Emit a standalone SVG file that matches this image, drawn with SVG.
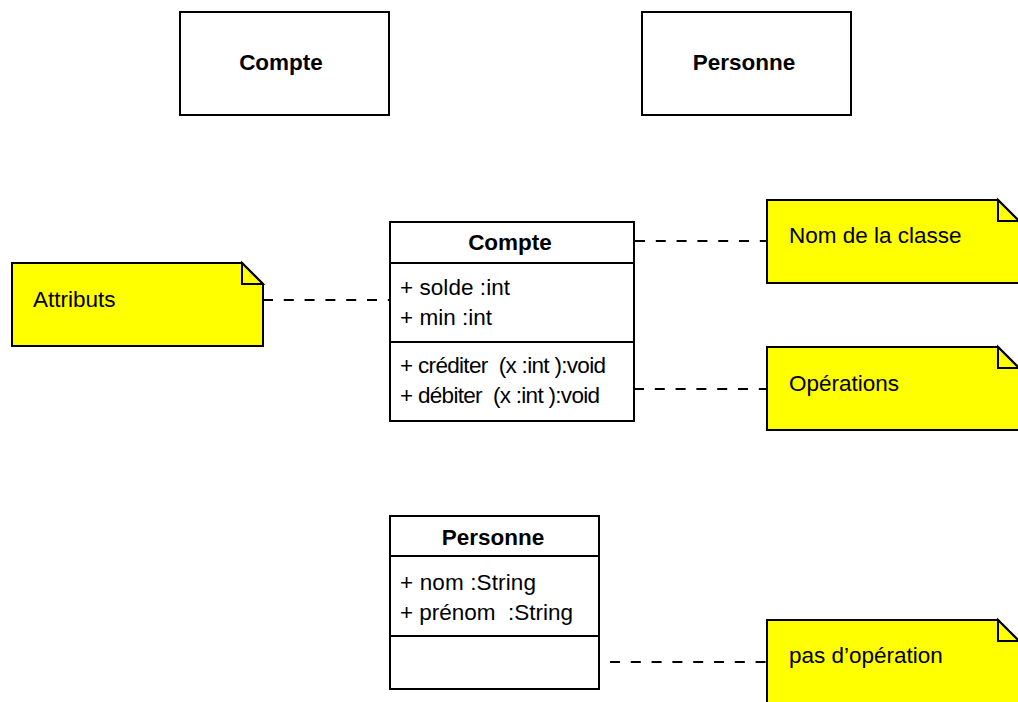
<svg xmlns="http://www.w3.org/2000/svg" width="1018" height="702" viewBox="0 0 1018 702">
<style>
.box{fill:#fff;stroke:#000;stroke-width:2}
.sep{stroke:#000;stroke-width:2}
.note{fill:#ffff00;stroke:#000;stroke-width:2;stroke-linejoin:miter}
.fold{fill:#ffff00;stroke:#000;stroke-width:2}
.t{font-family:"Liberation Sans",Arial,sans-serif;font-size:22.5px;fill:#000;white-space:pre}
.b{font-family:"Liberation Sans",Arial,sans-serif;font-size:22.5px;font-weight:bold;fill:#000;text-anchor:middle}
.c{stroke:#000;stroke-width:2;stroke-dasharray:10 10.8;fill:none}
</style>
<rect width="1018" height="702" fill="#fff"/>
<g id="compte-simple">
<rect class="box" x="180" y="12" width="209" height="103"/>
<text class="b" x="281" y="70">Compte</text>
</g>
<g id="personne-simple">
<rect class="box" x="642" y="12" width="209" height="103"/>
<text class="b" x="744" y="70">Personne</text>
</g>
<g id="connectors">
<line class="c" x1="635" y1="241" x2="767" y2="241"/>
<line class="c" x1="263" y1="300" x2="390" y2="300"/>
<line class="c" x1="634" y1="389" x2="767" y2="389"/>
<line class="c" x1="610" y1="662" x2="767" y2="662"/>
</g>
<g id="compte-class">
<rect class="box" x="390" y="222" width="244" height="199"/>
<line class="sep" x1="390" y1="263" x2="634" y2="263"/>
<line class="sep" x1="390" y1="342" x2="634" y2="342"/>
<text class="b" x="510" y="250">Compte</text>
<text class="t" x="400" y="295" textLength="110">+ solde :int</text>
<text class="t" x="400" y="325" textLength="92">+ min :int</text>
<text class="t" x="400" y="373" textLength="206">+ créditer  (x :int ):void</text>
<text class="t" x="400" y="403" textLength="200">+ débiter  (x :int ):void</text>
</g>
<g id="personne-class">
<rect class="box" x="390" y="516" width="209" height="173"/>
<line class="sep" x1="390" y1="556" x2="599" y2="556"/>
<line class="sep" x1="390" y1="636" x2="599" y2="636"/>
<text class="b" x="493" y="545">Personne</text>
<text class="t" x="400" y="590" textLength="136">+ nom :String</text>
<text class="t" x="400" y="620" textLength="173">+ prénom  :String</text>
</g>
<g id="note-attributs">
<path class="note" d="M12,263 H242 L263,284 V346 H12 Z"/>
<path class="fold" d="M242,263 V284 H263 Z"/>
<text class="t" x="33" y="307">Attributs</text>
</g>
<g id="note-nom">
<path class="note" d="M767,200 H998 L1019,221 V283 H767 Z"/>
<path class="fold" d="M998,200 V221 H1019 Z"/>
<text class="t" x="789" y="243">Nom de la classe</text>
</g>
<g id="note-operations">
<path class="note" d="M767,347 H998 L1019,368 V430 H767 Z"/>
<path class="fold" d="M998,347 V368 H1019 Z"/>
<text class="t" x="789" y="391">Opérations</text>
</g>
<g id="note-pasop">
<path class="note" d="M767,620 H998 L1019,641 V703 H767 Z"/>
<path class="fold" d="M998,620 V641 H1019 Z"/>
<text class="t" x="789" y="663">pas d’opération</text>
</g>
</svg>
